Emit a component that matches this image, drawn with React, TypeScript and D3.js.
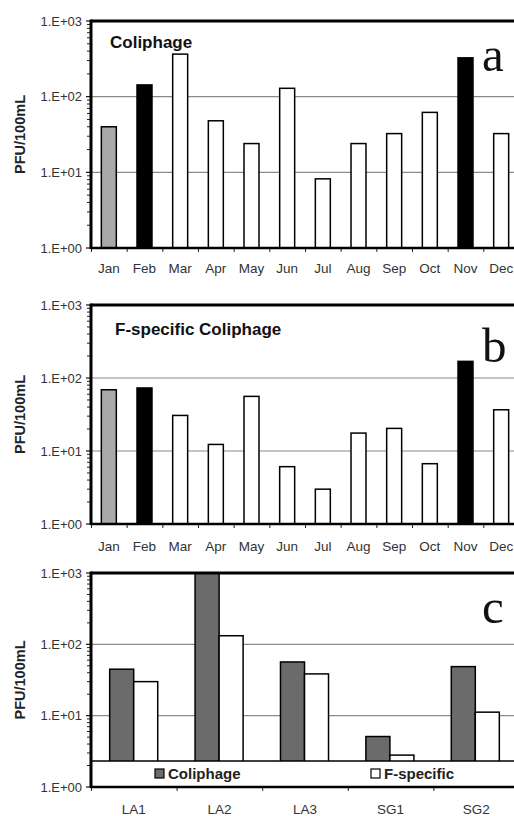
import * as d3 from "d3";

const months = ["Jan", "Feb", "Mar", "Apr", "May", "Jun", "Jul", "Aug", "Sep", "Oct", "Nov", "Dec"];
const coliphage = [40, 143, 365, 48, 24, 129, 8.2, 24, 32.5, 62, 326, 32.5];
const fSpecific = [69, 73, 30.7, 12.3, 56, 6.1, 3.0, 17.6, 20.4, 6.7, 169, 36.7];
const monthFill = ["#a9a9a9", "#000", "#fff", "#fff", "#fff", "#fff", "#fff", "#fff", "#fff", "#fff", "#000", "#fff"];

const sites = ["LA1", "LA2", "LA3", "SG1", "SG2"];
const siteColiphage = [44.8, 1000, 56.6, 5.1, 48.7];
const siteFSpecific = [30, 132, 38.5, 2.8, 11.2];
const siteSeries = ["Coliphage", "F-specific"];
const siteFill = ["#6b6b6b", "#fff"];

const yTicks = [1, 10, 100, 1000];
const tickLabel = (v: number) => `1.E+${String(Math.round(Math.log10(v))).padStart(2, "0")}`;

const X0 = 91;
const X1 = 519;
const FONT = "Arial, 'Liberation Sans', sans-serif";

function Frame({ y, top, bottom, cats, labelY, title, titleX, titleY, letter, letterY }: any) {
  const ticks = [...yTicks.slice(0, 3).flatMap((d) => d3.range(2, 10).map((m) => d * m))];
  const xb = d3.scaleBand<string>().domain(cats).range([X0, X1]);
  return (
    <g>
      {/* gridlines */}
      {[10, 100].map((v) => (
        <line key={v} x1={X0} x2={514} y1={y(v)} y2={y(v)} stroke="#8a8a8a" strokeWidth={1.2} />
      ))}
      {/* minor ticks */}
      {ticks.map((v) => (
        <line key={v} x1={87} x2={X0} y1={y(v)} y2={y(v)} stroke="#222" strokeWidth={1} />
      ))}
      {yTicks.map((v) => (
        <g key={v}>
          <line x1={86} x2={X0} y1={y(v)} y2={y(v)} stroke="#111" strokeWidth={1.2} />
          <text x={82} y={y(v)} dy="0.35em" textAnchor="end" fontSize={13} fill="#333" fontFamily={FONT}>
            {tickLabel(v)}
          </text>
        </g>
      ))}
      {/* bottom ticks at category boundaries */}
      {cats.map((c: string) => (
        <line key={c} x1={xb(c)! + 0.5} x2={xb(c)! + 0.5} y1={bottom} y2={bottom + 4} stroke="#222" strokeWidth={1} />
      ))}
      {cats.map((c: string) => (
        <text key={c} x={xb(c)! + xb.bandwidth() / 2} y={labelY} textAnchor="middle" fontSize={13.5} fill="#333" fontFamily={FONT}>
          {c}
        </text>
      ))}
      <text
        transform={`translate(25,${(top + bottom) / 2}) rotate(-90)`}
        textAnchor="middle"
        fontSize={14.5}
        fontWeight="bold"
        fill="#222"
        fontFamily={FONT}
      >
        PFU/100mL
      </text>
      {title && (
        <text x={titleX} y={titleY} fontSize={17} fontWeight="bold" fill="#111" fontFamily={FONT}>
          {title}
        </text>
      )}
      <text x={482} y={letterY} fontSize={49} fill="#111" fontFamily="'Liberation Serif', 'Times New Roman', serif">
        {letter}
      </text>
    </g>
  );
}

function Axes({ top, bottom }: { top: number; bottom: number }) {
  return (
    <g>
      <line x1={X0} x2={514} y1={top} y2={top} stroke="#000" strokeWidth={3} />
      <line x1={X0 - 0.5} x2={514} y1={bottom} y2={bottom} stroke="#000" strokeWidth={2.5} />
      <line x1={X0} x2={X0} y1={top - 1.5} y2={bottom + 1} stroke="#000" strokeWidth={3} />
    </g>
  );
}

function MonthPanel({ top, bottom, values, labelY, title, titleY, letterY }: any) {
  const y = d3.scaleLog().domain([1, 1000]).range([bottom, top]);
  const x = d3.scaleBand<string>().domain(months).range([X0, X1]).paddingInner(0.58).paddingOuter(0.29);
  return (
    <g>
      <Frame y={y} top={top} bottom={bottom} cats={months} labelY={labelY} title={title} titleX={title === "Coliphage" ? 110 : 115} titleY={titleY} letter={title === "Coliphage" ? "a" : "b"} letterY={letterY} />
      {months.map((m, i) => (
        <rect
          key={m}
          x={x(m)}
          width={x.bandwidth()}
          y={y(values[i])}
          height={bottom - y(values[i])}
          fill={monthFill[i]}
          stroke="#000"
          strokeWidth={1.5}
        />
      ))}
      <Axes top={top} bottom={bottom} />
    </g>
  );
}

function SitePanel({ top, bottom }: { top: number; bottom: number }) {
  const y = d3.scaleLog().domain([1, 1000]).range([bottom, top]).clamp(true);
  const x = d3.scaleBand<string>().domain(sites).range([X0, 518]).paddingInner(0.4375).paddingOuter(0.21875);
  const xs = d3.scaleBand<string>().domain(siteSeries).range([0, x.bandwidth()]);
  const vals = [siteColiphage, siteFSpecific];
  const legendTop = 761;
  return (
    <g>
      <Frame y={y} top={top} bottom={bottom} cats={sites} labelY={814} letter="c" letterY={623} />
      {sites.map((s, i) =>
        siteSeries.map((k, j) => (
          <rect
            key={s + k}
            x={x(s)! + xs(k)!}
            width={xs.bandwidth()}
            y={y(vals[j][i])}
            height={bottom - y(vals[j][i])}
            fill={siteFill[j]}
            stroke="#000"
            strokeWidth={1.5}
          />
        ))
      )}
      <rect x={X0} y={legendTop} width={514 - X0 + 5} height={bottom - legendTop} fill="#fff" stroke="#000" strokeWidth={1.5} />
      {siteSeries.map((k, j) => {
        const lx = j === 0 ? 155 : 371;
        return (
          <g key={k}>
            <rect x={lx} y={769} width={9} height={9} fill={siteFill[j]} stroke="#000" strokeWidth={1.2} />
            <text x={lx + 13} y={778.5} fontSize={15} fontWeight="bold" fill="#222" fontFamily={FONT}>
              {k}
            </text>
          </g>
        );
      })}
      <Axes top={top} bottom={bottom} />
    </g>
  );
}

export default function App() {
  return (
    <svg width={514} height={816} style={{ position: "absolute", left: 0, top: 0, background: "#fff" }}>
      <rect width={514} height={816} fill="#fff" />
      <MonthPanel top={21} bottom={248} values={coliphage} labelY={273} title="Coliphage" titleY={48} letterY={71} />
      <MonthPanel top={305} bottom={524} values={fSpecific} labelY={551} title="F-specific Coliphage" titleY={335} letterY={362} />
      <SitePanel top={573} bottom={787} />
    </svg>
  );
}
